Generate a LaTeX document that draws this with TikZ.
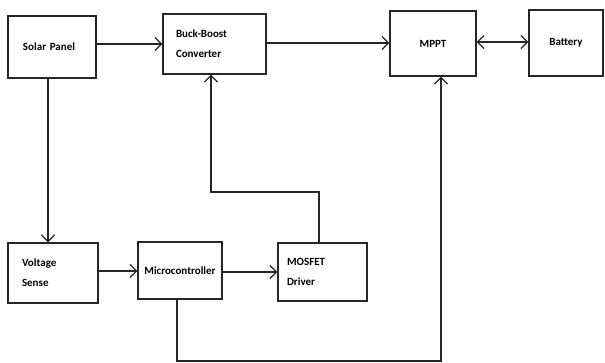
\documentclass[tikz,border=0pt]{standalone}
\usepackage{fontspec}
\setmainfont{Carlito}
\usetikzlibrary{arrows.meta}
\begin{document}
\begin{tikzpicture}[x=1pt,y=-1pt,
  box/.style={draw=black!85, line width=1.4pt, align=left, inner ysep=0pt,
    font=\fontsize{11}{20}\selectfont\bfseries},
  conn/.style={draw=black!85, line width=1.2pt},
  arr/.style={conn, -{Straight Barb[length=6.5pt,width=13pt,line width=1.2pt]}},
  darr/.style={conn, {Straight Barb[length=6.5pt,width=13pt,line width=1.2pt]}-{Straight Barb[length=6.5pt,width=13pt,line width=1.2pt]}}]
\useasboundingbox (0,0) rectangle (605,363);
\node[box, inner xsep=15pt, text width=58pt, minimum height=62pt] (sp) at (52,47) {Solar Panel};
\node[box, inner xsep=13pt, text width=77pt, minimum height=60pt] (bb) at (214.5,44) {Buck-Boost\\Converter};
\node[box, align=center, inner xsep=0pt, text width=86pt, minimum height=65pt] (mppt) at (433,43.5) {MPPT};
\node[box, align=center, inner xsep=0pt, text width=74pt, minimum height=66pt] (bat) at (566,43) {Battery};
\node[box, inner xsep=14pt, text width=62pt, minimum height=60pt] (vs) at (53,273) {Voltage\\Sense};
\node[box, align=center, inner xsep=2pt, text width=80pt, minimum height=57pt] (mc) at (180,270.5) {Microcontroller};
\node[box, inner xsep=9pt, text width=71pt, minimum height=58pt] (md) at (322.5,272) {MOSFET\\Driver};
\coordinate (c1) at (319,192);
\coordinate (c2) at (211,192);
\coordinate (c3) at (177,361);
\coordinate (c4) at (441,361);
\draw[arr] (sp.east |- 0,44) -- (bb.west |- 0,44);
\draw[arr] (bb.east |- 0,43) -- (mppt.west |- 0,43);
\draw[darr] (mppt.east |- 0,42) -- (bat.west |- 0,42);
\draw[arr] (sp.south -| 48,0) -- (vs.north -| 48,0);
\draw[arr] (vs.east |- 0,271) -- (mc.west |- 0,271);
\draw[arr] (mc.east |- 0,272) -- (md.west |- 0,272);
\draw[arr] (md.north -| c1) -- (c1) -- (c2) -- (bb.south -| c2);
\draw[arr] (mc.south -| c3) -- (c3) -- (c4) -- (mppt.south -| c4);
\end{tikzpicture}
\end{document}
